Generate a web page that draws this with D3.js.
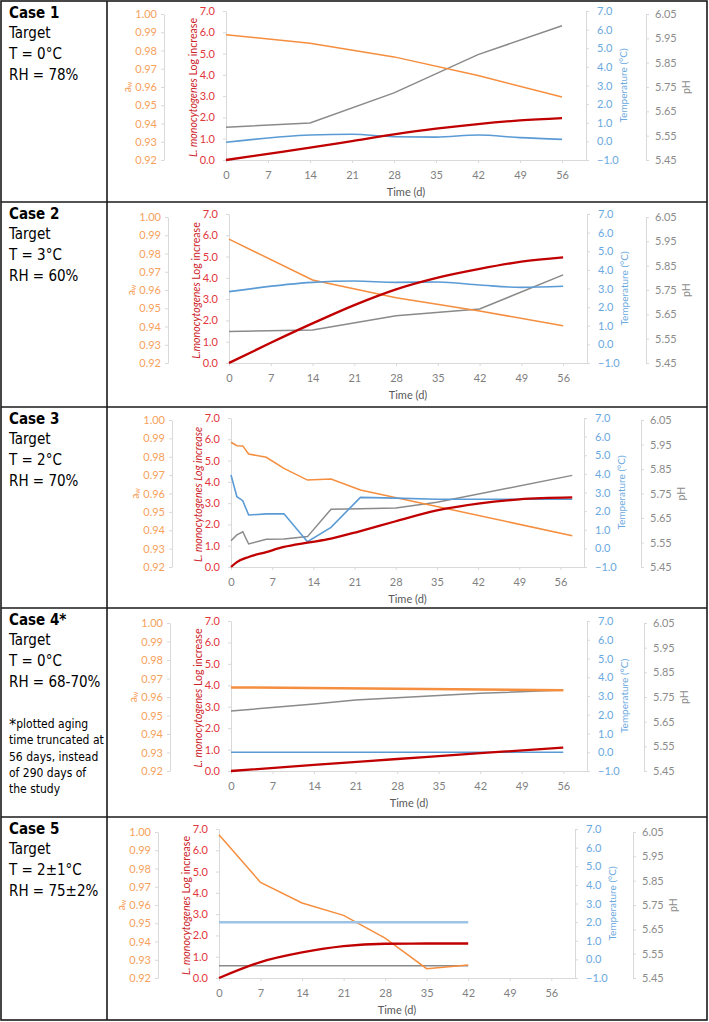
<!DOCTYPE html>
<html><head><meta charset="utf-8">
<script src="https://cdn.jsdelivr.net/npm/d3@7"></script>
<style>
html,body{margin:0;padding:0;background:#fff;}
svg{display:block;}
</style></head><body>
<svg id="chart" width="709" height="1022"></svg>
<script>
// ---------- tick labels ----------
const dayTicks = [0,7,14,21,28,35,42,49,56];
const awTicks = [0.92,0.93,0.94,0.95,0.96,0.97,0.98,0.99,1.00];
const logTicks = [0,1,2,3,4,5,6,7];
const tempTicks = [-1,0,1,2,3,4,5,6,7];
const phTicks = [5.45,5.55,5.65,5.75,5.85,5.95,6.05];

// ---------- row texts ----------
const caseTitles = ["Case 1","Case 2","Case 3","Case 4*","Case 5"];
const caseTemps = ["T = 0°C","T = 3°C","T = 2°C","T = 0°C","T = 2±1°C"];
const caseRH = ["RH = 78%","RH = 60%","RH = 70%","RH = 68-70%","RH = 75±2%"];
const footnote = ["plotted aging","time truncated at","56 days, instead","of 290 days of","the study"];

// ---------- Case 1 ----------
const c1AwDays = [0,14,28,42,56];
const c1Aw = [0.9886,0.9840,0.9765,0.9663,0.9545];
const c1PhDays = [0,14,28,42,56];
const c1Ph = [5.585,5.602,5.726,5.883,6.002];
const c1TempDays = [0,14,21,28,35,42,49,56];
const c1Temp = [-0.05,0.34,0.38,0.25,0.23,0.34,0.20,0.11];
const c1LogDays = [0,7,14,21,28,35,42,49,56];
const c1Log = [0,0.29,0.58,0.89,1.20,1.47,1.69,1.86,1.97];

// ---------- Case 2 ----------
const c2AwDays = [0,14,28,42,56];
const c2Aw = [0.9879,0.9655,0.9558,0.9485,0.9404];
const c2PhDays = [0,14,28,42,56];
const c2Ph = [5.579,5.586,5.644,5.672,5.812];
const c2TempDays = [0,14,21,28,35,42,49,56];
const c2Temp = [2.83,3.33,3.40,3.33,3.35,3.19,3.06,3.12];
const c2LogDays = [0,7,14,21,28,35,42,49,56];
const c2Log = [0,0.95,1.86,2.72,3.46,4.01,4.42,4.76,4.96];

// ---------- Case 3 ----------
const c3AwDays = [0,1,2,3,6,9,13,17,22,58];
const c3Aw = [0.9879,0.9860,0.9859,0.9815,0.9797,0.9737,0.9673,0.9679,0.9619,0.9370];
const c3PhDays = [0,1,2,3,6,9,13,17,22,28,35,58];
const c3Ph = [5.557,5.581,5.594,5.544,5.563,5.564,5.574,5.686,5.688,5.691,5.714,5.824];
const c3TempDays = [0,1,2,3,6,9,13,17,22,28,35,58];
const c3Temp = [3.94,2.77,2.56,1.79,1.85,1.86,0.36,1.13,2.74,2.70,2.64,2.64];
const c3LogDays = [0,1,3,6,9,13,17,22,28,35,42,49,58];
const c3Log = [0,0.23,0.47,0.70,0.94,1.14,1.33,1.69,2.15,2.66,2.98,3.18,3.27];

// ---------- Case 4 ----------
const c4AwDays = [0,28,56];
const c4Aw = [0.9652,0.9645,0.9636];
const c4PhDays = [0,14,21,28,42,56];
const c4Ph = [5.693,5.722,5.738,5.747,5.765,5.778];
const c4TempDays = [0,14,28,42,56];
const c4Temp = [0,0,0,0,0];
const c4LogDays = [0,14,28,42,56];
const c4Log = [0,0.29,0.56,0.83,1.09];

// ---------- Case 5 ----------
const c5AwDays = [0,7,14,21,28,35,42];
const c5Aw = [0.9985,0.9724,0.9611,0.9543,0.9419,0.9251,0.9271];
const c5PhDays = [0,7,14,21,28,35,42];
const c5Ph = [5.50,5.50,5.50,5.50,5.50,5.50,5.50];
const c5TempDays = [0,7,14,21,28,35,42];
const c5Temp = [2.0,2.0,2.0,2.0,2.0,2.0,2.0];
const c5LogDays = [0,7,14,21,28,35,42];
const c5Log = [0,0.75,1.20,1.50,1.61,1.62,1.62];

// ---------- assemble ----------
const zip = (a,b) => a.map((d,i)=>[d,b[i]]);
const caseData = [
  {aw:zip(c1AwDays,c1Aw), ph:zip(c1PhDays,c1Ph), temp:zip(c1TempDays,c1Temp), log:zip(c1LogDays,c1Log), tempSmooth:true},
  {aw:zip(c2AwDays,c2Aw), ph:zip(c2PhDays,c2Ph), temp:zip(c2TempDays,c2Temp), log:zip(c2LogDays,c2Log), tempSmooth:true},
  {aw:zip(c3AwDays,c3Aw), ph:zip(c3PhDays,c3Ph), temp:zip(c3TempDays,c3Temp), log:zip(c3LogDays,c3Log), tempSmooth:false},
  {aw:zip(c4AwDays,c4Aw), ph:zip(c4PhDays,c4Ph), temp:zip(c4TempDays,c4Temp), log:zip(c4LogDays,c4Log), tempSmooth:false},
  {aw:zip(c5AwDays,c5Aw), ph:zip(c5PhDays,c5Ph), temp:zip(c5TempDays,c5Temp), log:zip(c5LogDays,c5Log), tempSmooth:false}
];

// layout (pixels)
const layout = [
  {top:1,   left:226, right:586, awX:164, phX:646, redTop:11,  awTop:14,  bot:160, redTitle:[["L. monocytogenes",true],[" Log increase",false]]},
  {top:202, left:229, right:587, awX:168, phX:646, redTop:214, awTop:217, bot:363, redTitle:[["L.monocytogenes",true],[" Log increase",false]]},
  {top:407, left:231, right:584, awX:172, phX:641, redTop:418, awTop:420, bot:567, redTitle:[["L. monocytogenes Log increase",true]]},
  {top:608, left:231, right:587, awX:170, phX:644, redTop:621, awTop:623, bot:771, redTitle:[["L. monocytogenes",true],[" Log increase",false]]},
  {top:817, left:219, right:575, awX:158, phX:633, redTop:829, awTop:832, bot:978, redTitle:[["L. monocytogenes",true],[" Log increase",false]]}
];

const C = {
  orange:"#F58E3E", orangeTxt:"#F6A15C",
  red:"#C00000", redTxt:"#E2363C", redTitle:"#CC2229",
  blue:"#5B9BD5", blueTxt:"#6AA8E0",
  gray:"#8A8A8A", grayTxt:"#8C8C8C",
  axis:"#D9D9D9", xTxt:"#7F7F7F"
};
const chartFont = "Lato, 'Liberation Sans', sans-serif";
const textFont = "'DejaVu Sans Condensed', 'Liberation Sans', sans-serif";

const svg = d3.select("#chart");
svg.append("rect").attr("width",709).attr("height",1022).attr("fill","#fff");

function styleAxis(g, color){
  g.select(".domain").attr("stroke",C.axis).attr("stroke-width",1);
  g.selectAll(".tick line").attr("stroke",C.axis);
  g.selectAll(".tick text").attr("fill",color).attr("font-family",chartFont).attr("font-size","11px");
}

caseData.forEach((D, i) => {
  const L = layout[i];
  const g = svg.append("g");
  const x = d3.scaleLinear().domain([0,60]).range([L.left, L.right]);
  const yLog = d3.scaleLinear().domain([0,7]).range([L.bot, L.redTop]);
  const yTemp = d3.scaleLinear().domain([-1,7]).range([L.bot, L.redTop]);
  const yAw = d3.scaleLinear().domain([0.92,1.00]).range([L.bot, L.awTop]);
  const yPh = d3.scaleLinear().domain([5.45,6.05]).range([L.bot, L.awTop]);

  // axes
  g.append("g").attr("transform",`translate(${L.awX},0)`)
    .call(d3.axisLeft(yAw).tickValues(awTicks).tickFormat(d3.format(".2f")).tickSize(3).tickSizeOuter(0).tickPadding(4))
    .call(a=>styleAxis(a,C.orangeTxt));
  g.append("g").attr("transform",`translate(${L.left},0)`)
    .call(d3.axisLeft(yLog).tickValues(logTicks).tickFormat(d3.format(".1f")).tickSize(3).tickSizeOuter(0).tickPadding(8))
    .call(a=>styleAxis(a,C.redTxt));
  g.append("g").attr("transform",`translate(${L.right},0)`)
    .call(d3.axisRight(yTemp).tickValues(tempTicks).tickFormat(d3.format(".1f")).tickSize(3).tickSizeOuter(0).tickPadding(8))
    .call(a=>styleAxis(a,C.blueTxt));
  g.append("g").attr("transform",`translate(${L.phX},0)`)
    .call(d3.axisRight(yPh).tickValues(phTicks).tickFormat(d3.format(".2f")).tickSize(3).tickSizeOuter(0).tickPadding(6))
    .call(a=>styleAxis(a,C.grayTxt));
  g.append("g").attr("transform",`translate(0,${L.bot})`)
    .call(d3.axisBottom(x).tickValues(dayTicks).tickFormat(d3.format("d")).tickSize(3).tickSizeOuter(0).tickPadding(8))
    .call(a=>styleAxis(a,C.xTxt));

  // axis titles
  const midAw = (L.awTop + L.bot)/2, midRed = (L.redTop + L.bot)/2;
  const awT = g.append("text").attr("transform",`translate(${L.awX-37},${midAw}) rotate(-90)`)
    .attr("text-anchor","middle").attr("dominant-baseline","central")
    .attr("font-family",chartFont).attr("font-size","10.5px").attr("fill",C.orangeTxt);
  awT.append("tspan").text("a");
  awT.append("tspan").attr("font-size","7px").attr("dy","2").text("w");

  const rt = g.append("text").attr("transform",`translate(${L.left-33},${midRed+2}) rotate(-90)`)
    .attr("text-anchor","middle").attr("dominant-baseline","central")
    .attr("font-family",chartFont).attr("font-size","10.6px").attr("fill",C.redTitle);
  L.redTitle.forEach(([t,it]) => rt.append("tspan").attr("font-style", it ? "italic" : "normal").text(t));

  g.append("text").attr("transform",`translate(${L.right+37},${midRed}) rotate(-90)`)
    .attr("text-anchor","middle").attr("dominant-baseline","central")
    .attr("font-family",chartFont).attr("font-size","10px").attr("fill",C.blueTxt)
    .text("Temperature (°C)");
  g.append("text").attr("transform",`translate(${L.phX+40},${midAw}) rotate(-90)`)
    .attr("text-anchor","middle").attr("dominant-baseline","central")
    .attr("font-family",chartFont).attr("font-size","10.5px").attr("fill",C.grayTxt)
    .text("pH");
  g.append("text").attr("x",(L.left+L.right)/2).attr("y",L.bot+31)
    .attr("text-anchor","middle").attr("dominant-baseline","central")
    .attr("font-family",chartFont).attr("font-size","11px").attr("fill","#595959")
    .text("Time (d)");

  // lines
  const straight = d3.curveLinear, smooth = d3.curveMonotoneX;
  const line = (ys, curve) => d3.line().x(d=>x(d[0])).y(d=>ys(d[1])).curve(curve);
  g.append("path").datum(D.ph).attr("d", line(yPh, straight))
    .attr("fill","none").attr("stroke",C.gray).attr("stroke-width",1.5);
  g.append("path").datum(D.aw).attr("d", line(yAw, straight))
    .attr("fill","none").attr("stroke",C.orange).attr("stroke-width", i===3 ? 2.5 : 1.5);
  g.append("path").datum(D.temp).attr("d", line(yTemp, D.tempSmooth ? smooth : straight))
    .attr("fill","none").attr("stroke", i===4 ? "#9DC3E6" : C.blue).attr("stroke-width", i===4 ? 2.5 : 1.6);
  g.append("path").datum(D.log).attr("d", line(yLog, smooth))
    .attr("fill","none").attr("stroke",C.red).attr("stroke-width",2.3);

  // left cell text
  const tx = 9, ty = L.top;
  const t = svg.append("g").attr("font-family",textFont).attr("fill","#000").attr("font-size","15px");
  t.append("text").attr("x",tx).attr("y",ty+12).attr("dominant-baseline","central").attr("font-weight","bold").text(caseTitles[i]);
  t.append("text").attr("x",tx).attr("y",ty+32).attr("dominant-baseline","central").text("Target");
  t.append("text").attr("x",tx).attr("y",ty+53).attr("dominant-baseline","central").text(caseTemps[i]);
  t.append("text").attr("x",tx).attr("y",ty+74).attr("dominant-baseline","central").text(caseRH[i]);
  if (i===3){
    footnote.forEach((s,k)=>{
      const ft = t.append("text").attr("x",tx).attr("y",ty+116+k*16.3).attr("dominant-baseline","central").attr("font-size","12px");
      if (k===0){ ft.append("tspan").attr("font-size","16px").text("*"); }
      ft.append("tspan").text(s);
    });
  }
});

// table borders
const rowLines = [202,407,608,817];
const b = svg.append("g").attr("stroke","#1a1a1a").attr("stroke-width",1.6).attr("fill","none");
b.append("rect").attr("x",1).attr("y",1).attr("width",706).attr("height",1019);
b.append("line").attr("x1",107).attr("x2",107).attr("y1",1).attr("y2",1020);
rowLines.forEach(y=> b.append("line").attr("x1",1).attr("x2",707).attr("y1",y).attr("y2",y));
</script>
</body></html>
